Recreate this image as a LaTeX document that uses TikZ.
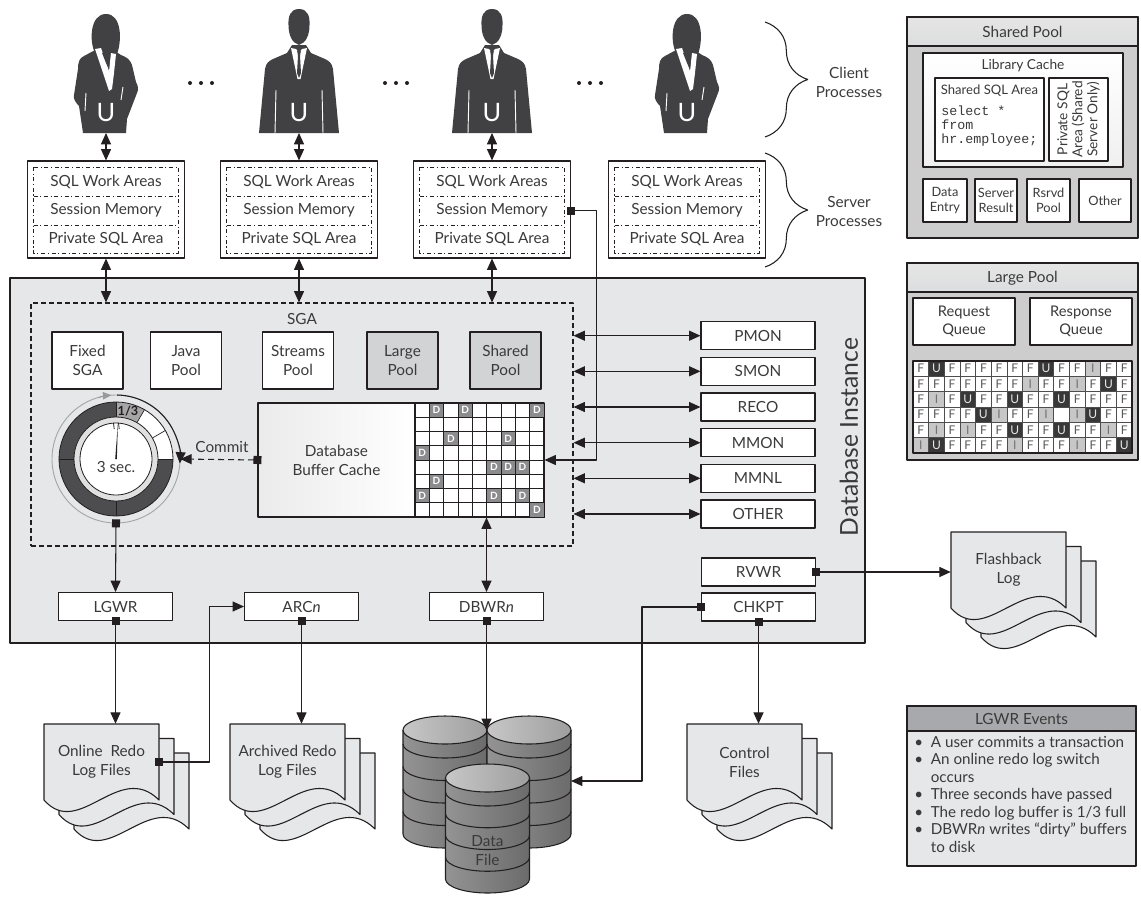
\documentclass[tikz,border=0pt]{standalone}
\usepackage{fontspec}
\setmainfont{Lato}
\setmonofont{Liberation Mono}
\usetikzlibrary{arrows.meta,calc,decorations.pathreplacing}
\definecolor{ink}{HTML}{3A3A3A}
\definecolor{edge}{HTML}{231F20}
\definecolor{inst}{HTML}{E6E7E8}
\definecolor{poolfill}{HTML}{D1D3D4}
\definecolor{panel}{HTML}{CDCDCE}
\definecolor{headfill}{HTML}{DCDDDE}
\definecolor{evhead}{HTML}{A7A9AC}
\definecolor{ring}{HTML}{4D4D4F}
\definecolor{dcell}{HTML}{8C8C8E}
\definecolor{person}{HTML}{414042}
\newcommand\fmain{\fontsize{11.5}{14.25}\selectfont}
\newcommand\fsmall{\fontsize{10.3}{10.8}\selectfont}
\newcommand\lpmark[1]{\if B#1\else#1\fi}
\tikzset{
  >={Triangle[length=8.5pt,width=7.5pt]},
  wire/.style={draw=edge, line width=0.8pt},
  dbl/.style={wire, <->},
  sqarr/.style={wire, {Square[length=6pt,width=6pt]}->, shorten <=-3pt},
  box/.style={wire, fill=white, inner sep=0pt, text=ink, font=\fmain, align=center},
  proc/.style={box, minimum width=85.5pt, minimum height=21pt},
  pool/.style={box, minimum width=53.25pt, minimum height=42.75pt},
  lbl/.style={text=ink, font=\fmain, inner sep=0pt, align=center},
  sml/.style={text=ink, font=\fsmall, inner sep=0pt, align=center},
  spbox/.style={box, font=\fontsize{9.6}{10.8}\selectfont, minimum height=32.25pt},
  dcl/.style={draw=edge, line width=0.5pt, fill=dcell, text=white, inner sep=0pt,
    minimum width=10.75pt, minimum height=10.7pt, font=\bfseries\fontsize{7.5}{7.5}\selectfont},
  lpc/.style={draw=edge!80, line width=0.5pt, inner sep=0pt, minimum width=11.73pt,
    minimum height=11.5pt, font=\fontsize{9}{9}\selectfont},
  lpF/.style={fill=white, text=black!65},
  lpU/.style={fill=black!78, text=black!10},
  lpI/.style={fill=black!22, text=black!55},
  lpB/.style={fill=white},
  man/.pic={
    % suit
    \fill[person] (-40,0) -- (-34,-64) .. controls (-33,-70) and (-30,-72) .. (-26,-74)
      -- (-12,-80) -- (-7,-88) -- (7,-88) -- (12,-80) -- (26,-74)
      .. controls (30,-72) and (33,-70) .. (34,-64) -- (40,0) -- cycle;
    % head
    \fill[person] (0,-124) .. controls (-9,-124) and (-11,-116) .. (-10.5,-108)
      .. controls (-10.5,-98) and (-7,-90) .. (0,-88) .. controls (7,-90) and (10.5,-98) .. (10.5,-108)
      .. controls (11,-116) and (9,-124) .. (0,-124) -- cycle;
    % shirt and tie
    \fill[white] (-8,-85) -- (-3,-84) -- (0,-80) -- (3,-84) -- (8,-85) -- (1.5,-54) -- (-1.5,-54) -- cycle;
    \fill[person] (-1.8,-82) -- (1.8,-82) -- (1,-77) -- (2,-60) -- (0,-55) -- (-2,-60) -- (-1,-77) -- cycle;
    \draw[white, line width=0.7pt] (-23,-43) -- (-24,0) (23,-43) -- (24,0);
    \node[text=white, inner sep=0pt, font=\fontsize{19}{19}\selectfont] (-u) at (0,-20) {U};
    \coordinate (-base) at (0,0);
  },
  woman/.pic={
    % hair
    \fill[person] (-11,-80) .. controls (-17,-92) and (-16,-119) .. (0,-119)
      .. controls (16,-119) and (16,-92) .. (11,-79) -- cycle;
    % jacket
    \fill[person] (-9,-84) -- (-22,-77) .. controls (-27,-75) and (-28,-70) .. (-28,-64)
      -- (-32,-38) .. controls (-33,-34) and (-30,-30) .. (-27,-27) -- (-23,0) -- (20,0) -- (21,-14)
      -- (31,-40) .. controls (33,-44) and (32,-47) .. (30,-51) -- (26,-68)
      .. controls (24,-74) and (20,-76) .. (15,-78) -- (9,-82) -- cycle;
    % blouse collar
    \fill[white] (-11,-84) -- (-5,-85) -- (3,-62) -- (5,-80) -- (10,-79) -- (8,-60) -- (6,-44) -- (3,-42) -- cycle;
    \fill[person] (-4,-80) -- (4,-80) -- (3,-64) -- (0,-70) -- cycle;
    \draw[white, line width=0.7pt] (-20,-40) -- (-21,-22) (17,-46) -- (15,-33);
    \node[text=white, inner sep=0pt, font=\fontsize{19}{19}\selectfont] (-u) at (0,-20) {U};
    \coordinate (-base) at (0,0);
  }
}
% stacked file pages: name, left x, top y, caption
\newcommand\docstack[4]{
  \foreach \k in {2,1,0}
    \draw[wire, fill=inst, shift={(15*\k,14.5*\k)}] (#2,#3) -- ++(115,0) -- ++(0,76)
      .. controls +(-40,-40) and +(35,40) .. ++(-115,0) -- cycle;
  \node[lbl, minimum width=86.25pt, minimum height=57pt] (#1) at (#2+57.5,#3+38) {#4};
}
% disk drum: centre x, top y, bottom y
\newcommand\drum[3]{
  \shade[left color=black!42, middle color=black!12, right color=black!58]
    (#1-42,#2) -- (#1-42,#3) arc[start angle=180,end angle=0,x radius=42,y radius=14] -- (#1+42,#2) -- cycle;
  \foreach \k in {0,...,3}
    \draw[wire] (#1-42,{#2+14+\k*(#3-#2-14)/4}) arc[start angle=180,end angle=0,x radius=42,y radius=14];
  \draw[wire] (#1-42,#2) -- (#1-42,#3) arc[start angle=180,end angle=0,x radius=42,y radius=14] -- (#1+42,#2);
  \draw[wire, left color=black!22, middle color=black!10, right color=black!38]
    (#1,#2) ellipse [x radius=42, y radius=14];
}

\begin{document}
\begin{tikzpicture}[x=0.75pt,y=-0.75pt,line join=round]
\useasboundingbox (0,0) rectangle (1141,896);

% database instance
\draw[wire, fill=inst] (10,278) rectangle (865,643);
\node[lbl, rotate=90, font=\fontsize{18.5}{18.5}\selectfont] (dbi) at (849,437) {Database Instance};

% client processes
\pic (u1) at (106,133) {woman};
\pic (u2) at (299,133) {man};
\pic (u3) at (492,133) {man};
\pic (u4) at (687,133) {woman};
\foreach \x in {201,396,590}
  \fill[edge] (\x-11,83) circle (2) (\x,83) circle (2) (\x+11,83) circle (2);

% server processes
\foreach \x [count=\i] in {106,299,492,687} {
  \node[box, minimum width=117.75pt, minimum height=72.75pt] (srv\i) at (\x,209.5) {};
  \draw[wire, dash dot, line width=0.6pt] (\x-72.5,167) rectangle (\x+72.5,253)
    (\x-72.5,196) -- (\x+72.5,196) (\x-72.5,225) -- (\x+72.5,225);
  \node[lbl] (wa\i) at (\x,181.5) {SQL Work Areas};
  \node[lbl] (sm\i) at (\x,210.5) {Session Memory};
  \node[lbl] (pa\i) at (\x,239) {Private SQL Area};
}
\draw[wire, decorate, decoration={brace, amplitude=32pt}] (765,22) -- (765,137);
\draw[wire, decorate, decoration={brace, amplitude=32pt}] (765,153) -- (765,267);
\node[lbl] (cli) at (849,82.5) {Client\\Processes};
\node[lbl] (srvl) at (849,211.5) {Server\\Processes};

% SGA
\node[wire, dash pattern=on 3.5pt off 2.5pt, minimum width=406.5pt, minimum height=182.25pt] (sga) at (302,424.5) {};
\node[lbl] (sgat) at (302,319) {SGA};
\foreach \x/\t/\f [count=\i] in {87.5/Fixed\\SGA/white, 186/Java\\Pool/white, 298/Streams\\Pool/white,
    402.5/Large\\Pool/poolfill, 505.5/Shared\\Pool/poolfill}
  \node[pool, fill=\f] (m\i) at (\x,360.5) {\t};

% redo log buffer clock
\node[circle, minimum size=96pt, inner sep=0pt] (clk) at (116,459) {};
\begin{scope}[shift={(116,459)}, y=0.75pt]
  \draw[black!35, line width=0.7pt] (0,0) circle (64);
  \draw[black!40, line width=0.7pt, -{Triangle[length=6.5pt,width=5.5pt]}] (106:64) arc (106:94:64);
  \draw[wire, ->] (89:64) arc (89:-4:64);
  \fill[ring] (90:57) arc (90:360:57) -- (0:42) arc (360:90:42) -- cycle;
  \fill[black!35] (90:57) arc (90:60:57) -- (60:42) arc (60:90:42) -- cycle;
  \fill[white] (60:57) arc (60:0:57) -- (0:42) arc (0:60:42) -- cycle;
  \draw[wire, line width=0.6pt] (0,0) circle (57);
  \foreach \a in {0,30,60,90,180,270} \draw[edge, line width=0.5pt] (\a:42) -- (\a:57);
  \filldraw[fill=black!12, draw=edge, line width=0.6pt] (0,0) circle (42);
  \filldraw[fill=white, draw=edge, line width=0.6pt] (0,0) circle (36);
  \node[text=edge, inner sep=0pt, font=\bfseries\fontsize{9.5}{9.5}\selectfont] (third) at (76:49.5) {1/3};
  \fill[edge] (-0.8,0) -- (2,37) -- (0.8,0) -- cycle;
  \draw[edge, line width=0.6pt] (-2.5,36) -- (-1.8,30) (2.5,36) -- (3.2,30);
  \node[lbl] (secs) at (0,-8) {3 sec.};
\end{scope}

% buffer cache
\node[box, left color=black!8, right color=white, minimum width=117.75pt, minimum height=85.5pt] (buf) at (336.5,460) {Database\\Buffer Cache};
\node[wire, fill=white, minimum width=96.75pt, minimum height=85.5pt, inner sep=0pt] (grid) at (479.5,460) {};
\foreach \c in {1,...,8} \draw[edge, line width=0.6pt] ({415+\c*129/9},403) -- ++(0,114);
\foreach \r in {1,...,7} \draw[edge, line width=0.6pt] (415,{403+\r*114/8}) -- ++(129,0);
\foreach \r/\c in {0/1,0/3,0/8,2/2,2/6,3/0,4/5,4/6,4/7,5/1,6/0,6/5,6/7,7/8}
  \node[dcl] (d\r-\c) at ({415+(\c+0.5)*129/9},{403+(\r+0.5)*114/8}) {D};
\node[lbl] (cmt) at (222,447) {Commit};
\draw[sqarr, dash pattern=on 4.5pt off 3pt] (buf.west) -- (clk.east);

% background processes
\foreach \n/\y in {PMON/335.7,SMON/371.3,RECO/407,MMON/442.7,MMNL/478.3,OTHER/514}{
  \node[proc] (\n) at (758,\y) {\n};
  \draw[dbl] (sga.east |- \n.west) -- (\n.west);
}
\node[proc] (rvwr) at (758.5,572) {RVWR};
\node[proc] (chkpt) at (758.5,607) {CHKPT};
\node[proc] (lgwr) at (115.5,606.5) {LGWR};
\node[proc] (arcn) at (301.5,606.5) {ARC\textit{n}};
\node[proc] (dbwr) at (486.5,606.5) {DBWR\textit{n}};

% files
\docstack{olog}{44}{724}{Online\ \ Redo\\Log Files}
\docstack{alog}{230}{724}{Archived Redo\\Log Files}
\docstack{ctl}{687}{724}{Control\\Files}
\docstack{fb}{951}{532}{Flashback\\Log}
\drum{445}{730}{834}
\drum{529}{730}{834}
\drum{487.5}{778}{879}
\node[lbl] (df) at (487.5,851) {Data\\File};
\coordinate (dtop) at (486.5,730);
\coordinate (dside) at (571,781);

% connectors
\foreach \i in {1,2,3} {
  \draw[dbl] (u\i-base) -- (srv\i.north);
  \draw[dbl] (srv\i.south) -- (srv\i.south |- sga.north);
}
\draw[sqarr] (srv3.east |- sm3) -- ++(25.5,0) |- (grid.east);
\draw[dbl] (grid.south -| dbwr.north) -- (dbwr.north);
\draw[sqarr] (clk.south) -- (lgwr.north);
\draw[sqarr] (lgwr.south) -- (lgwr.south |- olog.north);
\draw[sqarr] (arcn.south) -- (arcn.south |- alog.north);
\draw[sqarr] (olog.east) -- ++(50,0) |- (arcn.west);
\draw[sqarr] (dbwr.south) -- (dtop);
\draw[sqarr] (chkpt.west) -- ++(-59,0) |- (dside);
\draw[sqarr] (chkpt.south) -- (chkpt.south |- ctl.north);
\draw[sqarr] (rvwr.east) -- (rvwr.east -| fb.west);

% shared pool detail
\draw[wire, fill=panel] (907,17) rectangle (1138,238);
\draw[wire, top color=white!90!black, bottom color=headfill] (907,17) rectangle (1138,46);
\node[lbl] (spt) at (1022.5,32) {Shared Pool};
\node[box, top color=white, bottom color=black!6, minimum width=150pt, minimum height=85.5pt] (lc) at (1023,110) {};
\node[sml] (lct) at (1023,66) {Library Cache};
\node[box, minimum width=81.75pt, minimum height=62.25pt] (ssa) at (989.5,119.5) {};
\node[sml, font=\fontsize{9.8}{10.8}\selectfont] (ssat) at (989.5,91) {Shared SQL Area};
\node[text=ink, inner sep=0pt, anchor=north west, align=left, font=\ttfamily\fontsize{10}{10.5}\selectfont] (sql) at (941,106) {select *\\from\\hr.employee;};
\node[box, minimum width=44.25pt, minimum height=62.25pt] (psa) at (1078.5,119.5) {};
\node[sml, rotate=90, font=\fontsize{10.3}{11.2}\selectfont] (psat) at (1078.5,119.5) {Private SQL\\Area (Shared\\Server Only)};
\node[spbox, minimum width=33pt] (sb1) at (945,200.5) {Data\\Entry};
\node[spbox, minimum width=31.5pt] (sb2) at (996,200.5) {Server\\Result};
\node[spbox, minimum width=32.25pt] (sb3) at (1048.5,200.5) {Rsrvd\\Pool};
\node[spbox, minimum width=39pt] (sb4) at (1105,200.5) {Other};

% large pool detail
\draw[wire, fill=panel] (907,263) rectangle (1138,460);
\draw[wire, top color=white!90!black, bottom color=headfill] (907,263) rectangle (1138,292);
\node[lbl] (lpt) at (1022.5,278) {Large Pool};
\node[box, font=\fontsize{11}{13.5}\selectfont, minimum width=76.5pt, minimum height=35.25pt] (rq) at (964,321.5) {Request\\Queue};
\node[box, font=\fontsize{11}{13.5}\selectfont, minimum width=76.5pt, minimum height=35.25pt] (rsp) at (1081,321.5) {Response\\Queue};
\foreach \row [count=\r from 0] in {{F,U,F,F,F,F,F,F,U,F,F,I,F,F},{F,F,F,F,F,F,F,I,F,F,I,F,U,F},
    {F,I,F,U,F,F,U,F,F,U,F,F,F,F},{F,F,F,F,U,I,F,F,I,B,I,U,F,F},
    {F,I,F,I,F,F,U,F,F,U,F,F,I,F},{I,U,F,F,F,F,I,F,F,F,I,F,F,U}}
  \foreach \v [count=\c from 0] in \row
    \node[lpc, lp\v] (q\r-\c) at ({913+(\c+0.5)*219/14},{361+(\r+0.5)*92/6}) {\lpmark\v};
\draw[wire] (913,361) rectangle (1132,453);

% LGWR triggers
\draw[wire, fill=inst] (907,706) rectangle (1136,866);
\draw[wire, fill=evhead] (907,706) rectangle (1136,731);
\node[lbl] (evt) at (1021.5,718.5) {LGWR Events};
\node[lbl, align=left, anchor=north west, font=\fontsize{11.4}{13.1}\selectfont] (evl) at (914,736)
  {\textbullet\ \ A user commits a transaction\\
   \textbullet\ \ An online redo log switch\\
   \phantom{\textbullet\ \ }occurs\\
   \textbullet\ \ Three seconds have passed\\
   \textbullet\ \ The redo log buffer is 1/3 full\\
   \textbullet\ \ DBWR\textit{n} writes “dirty” buffers\\
   \phantom{\textbullet\ \ }to disk};
\end{tikzpicture}
\end{document}
